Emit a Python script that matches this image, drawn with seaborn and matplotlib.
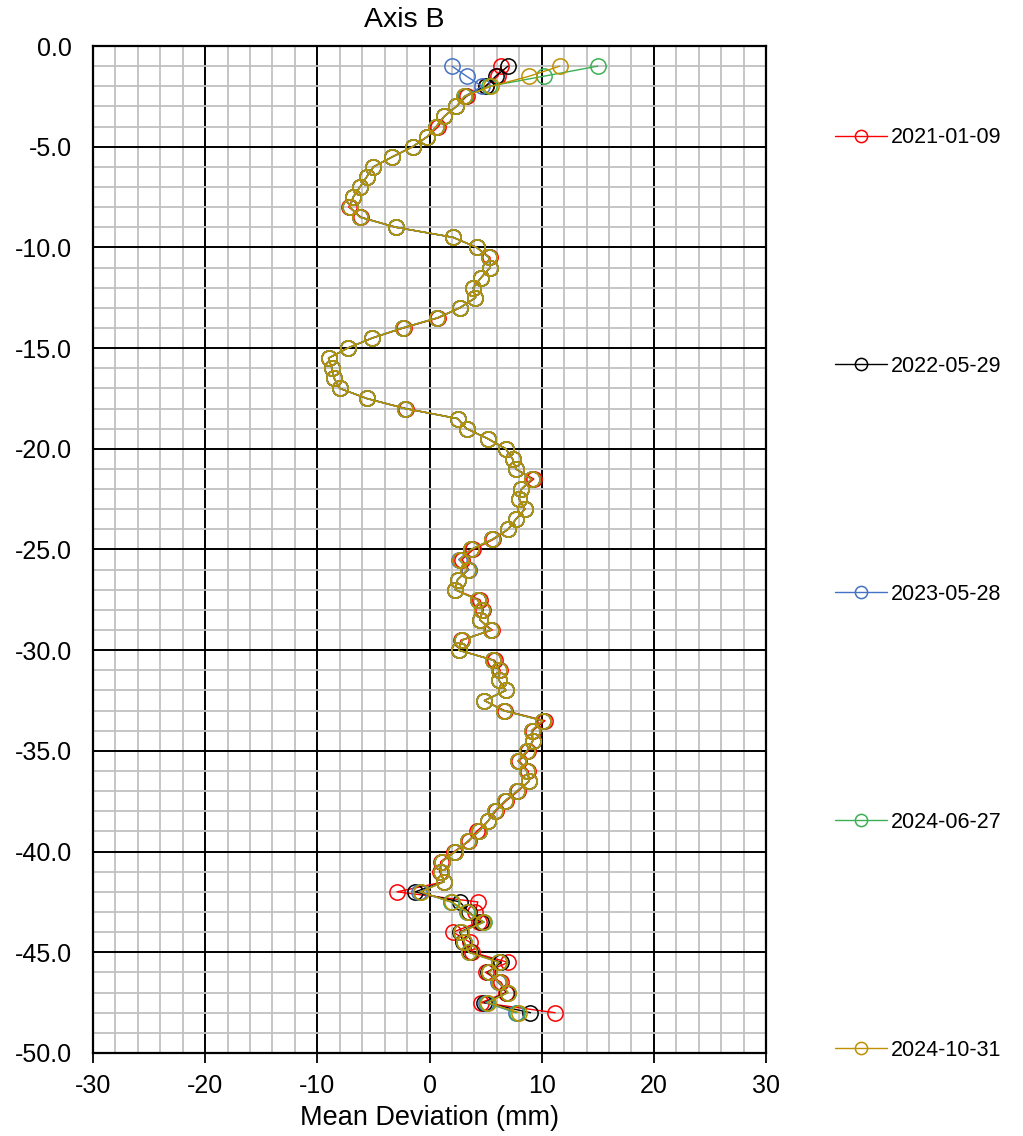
import numpy as np
import pandas as pd
import seaborn as sns
import matplotlib.pyplot as plt
from matplotlib.ticker import MultipleLocator, FormatStrFormatter

# Depth readings every 0.5 m, from -1.0 down to -48.0
depth = np.arange(-1.0, -48.01, -0.5)

dates = ["2021-01-09", "2022-05-29", "2023-05-28", "2024-06-27", "2024-10-31"]
colours = ["#FF0000", "#000000", "#4472C4", "#3CB054", "#BF9000"]

# Mean deviation (mm) per reading date
dev_2021 = [6.4, 6.1, 5.0, 3.3, 2.4, 1.3, 0.8, -0.2, -1.5, -3.3,
            -5.0, -5.6, -6.2, -6.8, -7.2, -6.1, -3.0, 2.1, 4.2, 5.4,
            5.4, 4.6, 3.9, 4.1, 2.7, 0.8, -2.3, -5.1, -7.3, -9.0,
            -8.7, -8.5, -8.0, -5.6, -2.1, 2.5, 3.3, 5.2, 6.8, 7.4,
            7.7, 9.3, 8.2, 8.0, 8.5, 7.7, 7.0, 5.7, 3.9, 2.9,
            3.5, 2.5, 2.3, 4.5, 4.8, 4.5, 5.6, 2.8, 2.6, 5.8,
            6.3, 6.2, 6.8, 4.9, 6.7, 10.3, 9.2, 9.2, 8.8, 8.0,
            8.8, 8.9, 7.9, 6.8, 5.9, 5.2, 4.2, 3.5, 2.2, 1.0,
            0.9, 1.3, -2.9, 4.3, 4.1, 4.4, 2.1, 3.6, 3.8, 7.0,
            5.0, 6.4, 6.8, 4.6, 11.2]

dev_2022 = [7.0, 5.9, 5.0, 3.2, 2.4, 1.3, 0.6, -0.2, -1.5, -3.3,
            -5.0, -5.6, -6.2, -6.8, -7.1, -6.2, -3.0, 2.1, 4.2, 5.3,
            5.4, 4.6, 3.9, 4.1, 2.7, 0.7, -2.4, -5.1, -7.3, -9.0,
            -8.7, -8.5, -8.0, -5.6, -2.2, 2.5, 3.3, 5.2, 6.8, 7.4,
            7.7, 9.1, 8.2, 8.0, 8.5, 7.7, 7.0, 5.6, 3.7, 2.7,
            3.4, 2.5, 2.3, 4.3, 4.7, 4.5, 5.5, 2.9, 2.6, 5.7,
            6.2, 6.2, 6.8, 4.9, 6.6, 10.1, 9.1, 9.2, 8.7, 7.9,
            8.7, 8.9, 7.8, 6.7, 5.8, 5.2, 4.4, 3.4, 2.3, 1.1,
            1.0, 1.3, -1.3, 2.7, 3.5, 4.6, 2.7, 3.0, 3.6, 6.4,
            5.2, 6.2, 6.9, 4.9, 9.0]

dev_2023 = [2.0, 3.3, 4.7, 3.1, 2.4, 1.3, 0.6, -0.2, -1.5, -3.3,
            -5.0, -5.6, -6.2, -6.8, -7.1, -6.2, -3.0, 2.1, 4.2, 5.3,
            5.4, 4.6, 3.9, 4.1, 2.7, 0.7, -2.4, -5.1, -7.3, -9.0,
            -8.7, -8.5, -8.0, -5.6, -2.2, 2.5, 3.3, 5.2, 6.8, 7.4,
            7.7, 9.1, 8.2, 8.0, 8.5, 7.7, 7.0, 5.6, 3.7, 2.6,
            3.5, 2.5, 2.3, 4.3, 4.7, 4.5, 5.5, 2.9, 2.6, 5.7,
            6.2, 6.2, 6.8, 4.9, 6.6, 10.1, 9.1, 9.2, 8.7, 7.9,
            8.7, 8.9, 7.8, 6.7, 5.8, 5.2, 4.4, 3.4, 2.3, 1.1,
            1.0, 1.3, -0.9, 1.9, 3.3, 4.8, 2.8, 3.1, 3.5, 6.2,
            5.3, 6.1, 7.0, 5.0, 7.7]

dev_2024a = [15.0, 10.2, 5.3, 3.2, 2.4, 1.3, 0.6, -0.2, -1.5, -3.3,
             -5.0, -5.6, -6.2, -6.8, -7.1, -6.2, -3.0, 2.1, 4.2, 5.3,
             5.4, 4.6, 3.9, 4.1, 2.7, 0.7, -2.4, -5.1, -7.3, -9.0,
             -8.7, -8.5, -8.0, -5.6, -2.2, 2.5, 3.3, 5.2, 6.8, 7.4,
             7.7, 9.1, 8.2, 8.0, 8.5, 7.7, 7.0, 5.6, 3.7, 2.7,
             3.4, 2.5, 2.3, 4.3, 4.7, 4.5, 5.5, 2.9, 2.6, 5.7,
             6.2, 6.2, 6.8, 4.9, 6.6, 10.1, 9.1, 9.2, 8.7, 7.9,
             8.7, 8.9, 7.8, 6.7, 5.8, 5.2, 4.4, 3.4, 2.3, 1.1,
             1.0, 1.3, -0.8, 1.9, 3.3, 4.9, 2.8, 3.1, 3.5, 6.2,
             5.3, 6.2, 7.0, 5.1, 7.8]

dev_2024b = [11.6, 8.9, 5.5, 3.1, 2.4, 1.3, 0.6, -0.2, -1.5, -3.3,
             -5.0, -5.6, -6.2, -6.8, -7.1, -6.2, -3.0, 2.1, 4.2, 5.3,
             5.4, 4.6, 3.9, 4.1, 2.7, 0.7, -2.4, -5.1, -7.3, -9.0,
             -8.7, -8.5, -8.0, -5.6, -2.2, 2.5, 3.3, 5.2, 6.8, 7.4,
             7.7, 9.1, 8.2, 8.0, 8.5, 7.7, 7.0, 5.6, 3.7, 2.7,
             3.4, 2.5, 2.3, 4.3, 4.7, 4.5, 5.5, 2.9, 2.6, 5.7,
             6.2, 6.2, 6.8, 4.9, 6.6, 10.1, 9.1, 9.2, 8.7, 7.9,
             8.7, 8.9, 7.8, 6.7, 5.8, 5.2, 4.4, 3.4, 2.3, 1.1,
             1.0, 1.3, -0.8, 2.0, 3.4, 4.8, 2.8, 3.1, 3.5, 6.2,
             5.3, 6.2, 7.0, 5.2, 8.0]

series = [dev_2021, dev_2022, dev_2023, dev_2024a, dev_2024b]

#~~~~~~~~~~~~~~~~~~~~~~~~~~
# Plot
#~~~~~~~~~~~~~~~~~~~~~~~~~~
sns.set_style("white")
plt.rcParams["font.family"] = ["Liberation Sans", "DejaVu Sans"]
plt.rcParams["axes.unicode_minus"] = False
plt.rcParams["text.color"] = "black"
plt.rcParams["xtick.color"] = "black"
plt.rcParams["ytick.color"] = "black"
plt.rcParams["axes.labelcolor"] = "black"

fig = plt.figure(figsize=(10.23, 11.36), dpi=100)
ax = fig.add_axes([0.0909, 0.0731, 0.6579, 0.8864])

for vals, date, col in zip(series, dates, colours):
    sns.lineplot(
        x=vals, y=depth,
        sort=False, estimator=None, orient="y",
        color=col, linewidth=1.0,
        marker="o", markersize=11,
        markerfacecolor="none", markeredgecolor=col, markeredgewidth=1.1,
        label=date, ax=ax
    )

ax.set_xlim(-30, 30)
ax.set_ylim(-50, 0)
ax.xaxis.set_major_locator(MultipleLocator(10))
ax.xaxis.set_minor_locator(MultipleLocator(2))
ax.yaxis.set_major_locator(MultipleLocator(5))
ax.yaxis.set_minor_locator(MultipleLocator(1))
ax.yaxis.set_major_formatter(FormatStrFormatter("%.1f"))

ax.set_axisbelow(True)
ax.grid(which="minor", color="#C0C0C0", linewidth=1.3)
ax.grid(which="major", color="black", linewidth=1.4)

for s in ax.spines.values():
    s.set_color("black")
    s.set_linewidth(1.6)

ax.tick_params(axis="x", which="major", direction="out", length=7, width=1.3,
               pad=8, labelsize=18, bottom=True)
ax.tick_params(axis="x", which="minor", length=0)
ax.tick_params(axis="y", which="both", length=0, pad=15, labelsize=18)

ax.set_xlabel("Mean Deviation (mm)", fontsize=19.5, labelpad=5)
ax.set_ylabel("")
fig.text(404 / 1023, 1 - 20 / 1136, "Axis B", fontsize=20.5, ha="center", va="center")

handles, labels = ax.get_legend_handles_labels()
ax.get_legend().remove()
fig.legend(handles, labels, loc="center left", bbox_to_anchor=(0.797, 0.477),
           frameon=False, fontsize=15.5, labelspacing=9.62, handlelength=2.42,
           handletextpad=0.2, markerscale=0.8)

plt.savefig("out.png", dpi=100)
